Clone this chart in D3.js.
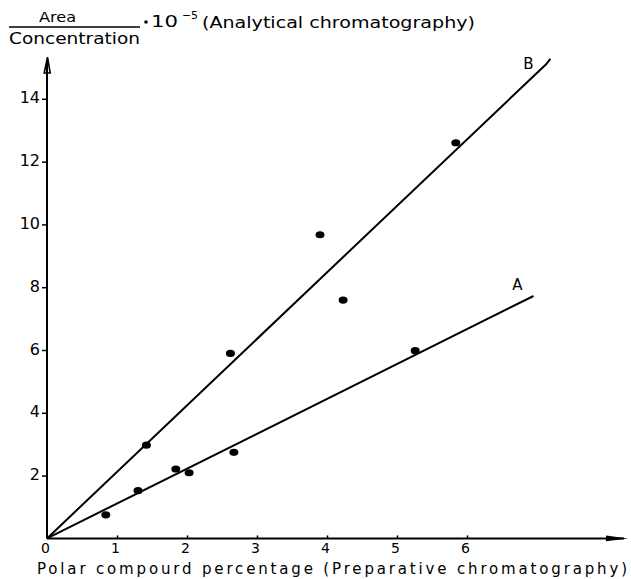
<!DOCTYPE html>
<html>
<head>
<meta charset="utf-8">
<script src="https://cdn.jsdelivr.net/npm/d3@7"></script>
<style>
  html, body { margin: 0; padding: 0; background: #fff; }
  svg { display: block; }
  text { font-family: "DejaVu Sans", sans-serif; fill: #000; }
</style>
</head>
<body>
<svg id="chart" width="631" height="579"></svg>
<script>
// ---- data ----
const xTickValues = [0, 1, 2, 3, 4, 5, 6];
const yTickValues = [2, 4, 6, 8, 10, 12, 14];

const seriesAx = [0.84, 1.30, 1.84, 2.03, 2.67, 5.26];
const seriesAy = [0.75, 1.52, 2.21, 2.09, 2.74, 5.98];
const seriesBx = [1.42, 2.62, 3.90, 4.23, 5.84];
const seriesBy = [2.97, 5.89, 9.67, 7.59, 12.60];

const lineAx = [0, 6.95];
const lineAy = [0, 7.72];
const lineBx = [0, 7.13, 7.19];
const lineBy = [0, 15.10, 15.27];

const lineLabels = ["A", "B"];
const xTitle = "Polar compourd percentage (Preparative chromatography)";

// ---- scales ----
const svg = d3.select("#chart");
const x = d3.scaleLinear().domain([0, 8]).range([47, 607]);
const y = d3.scaleLinear().domain([0, 15]).range([538.4, 67.4]);

// ---- title (y-axis label) ----
svg.append("text").attr("x", 39).attr("y", 22).attr("font-size", 14)
  .attr("textLength", 37).attr("lengthAdjust", "spacingAndGlyphs").text("Area");
svg.append("line").attr("x1", 9).attr("x2", 140).attr("y1", 27).attr("y2", 27)
  .attr("stroke", "#000").attr("stroke-width", 1.5);
svg.append("text").attr("x", 9).attr("y", 44).attr("font-size", 15)
  .attr("textLength", 131).attr("lengthAdjust", "spacingAndGlyphs").text("Concentration");
svg.append("circle").attr("cx", 146).attr("cy", 22).attr("r", 1.8).attr("fill", "#000");
svg.append("text").attr("x", 151).attr("y", 27).attr("font-size", 15)
  .attr("textLength", 27).attr("lengthAdjust", "spacingAndGlyphs").text("10");
svg.append("text").attr("x", 182).attr("y", 19).attr("font-size", 11)
  .attr("textLength", 16).attr("lengthAdjust", "spacingAndGlyphs").text("−5");
svg.append("text").attr("x", 202).attr("y", 28).attr("font-size", 15)
  .attr("textLength", 273).attr("lengthAdjust", "spacingAndGlyphs").text("(Analytical chromatography)");

// ---- axes ----
const gx = svg.append("g").attr("transform", `translate(0,${y(0)})`)
  .call(d3.axisBottom(x).tickValues(xTickValues).tickFormat(d3.format("d"))
    .tickSize(-3).tickPadding(5));
gx.select(".domain").remove();
gx.selectAll(".tick line").attr("stroke", "#000").attr("stroke-width", 1.5)
  .filter(d => d === 0).remove();
gx.selectAll(".tick text").attr("font-size", 14).attr("font-family", "DejaVu Sans").attr("fill", "#000")
  .attr("dx", -2);

const gy = svg.append("g").attr("transform", `translate(${x(0)},0)`)
  .call(d3.axisLeft(y).tickValues(yTickValues).tickFormat(d3.format("d"))
    .tickSize(5).tickPadding(2));
gy.select(".domain").remove();
gy.selectAll(".tick line").attr("stroke", "#000").attr("stroke-width", 1.5);
gy.selectAll(".tick text").attr("font-size", 16).attr("font-family", "DejaVu Sans").attr("fill", "#000")
  .attr("dy", "0.25em");

// axis lines with arrows
const xEnd = 8.3, yEnd = 15.33;
svg.append("line").attr("x1", x(0)).attr("x2", x(xEnd) - 4).attr("y1", y(0)).attr("y2", y(0))
  .attr("stroke", "#000").attr("stroke-width", 2);
svg.append("path")
  .attr("d", `M${x(xEnd)},${y(0)} L${x(xEnd) - 22},${y(0) - 2.8} L${x(xEnd) - 22},${y(0) + 2.8} Z`)
  .attr("fill", "#000");
svg.append("line").attr("x1", x(0)).attr("x2", x(0)).attr("y1", y(0)).attr("y2", y(yEnd) + 4)
  .attr("stroke", "#000").attr("stroke-width", 2);
svg.append("path")
  .attr("d", `M${x(0) + 0.5},${y(yEnd)} L${x(0) - 2.8},${y(yEnd) + 16} L${x(0) + 3.2},${y(yEnd) + 16} Z`)
  .attr("fill", "none").attr("stroke", "#000").attr("stroke-width", 1.6);

// ---- fitted lines ----
const line = d3.line().x(d => x(d[0])).y(d => y(d[1]));
svg.append("path").datum(d3.zip(lineAx, lineAy)).attr("d", line)
  .attr("fill", "none").attr("stroke", "#000").attr("stroke-width", 2);
svg.append("path").datum(d3.zip(lineBx, lineBy)).attr("d", line)
  .attr("fill", "none").attr("stroke", "#000").attr("stroke-width", 2);

// line labels
svg.append("text").attr("x", x(lineAx[1]) - 16).attr("y", y(lineAy[1]) - 6)
  .attr("font-size", 15).attr("text-anchor", "middle").text(lineLabels[0]);
svg.append("text").attr("x", x(lineBx[2]) - 22).attr("y", y(lineBy[2]) + 10)
  .attr("font-size", 15).attr("text-anchor", "middle").text(lineLabels[1]);

// ---- points ----
const pts = d3.zip(seriesAx, seriesAy).concat(d3.zip(seriesBx, seriesBy));
svg.append("g").selectAll("ellipse").data(pts).join("ellipse")
  .attr("cx", d => x(d[0])).attr("cy", d => y(d[1]))
  .attr("rx", 4.5).attr("ry", 3.6).attr("fill", "#000");

// ---- x title ----
svg.append("text").attr("x", 37).attr("y", 574).attr("font-size", 15)
  .attr("textLength", 590).attr("lengthAdjust", "spacing").text(xTitle);
</script>
</body>
</html>
